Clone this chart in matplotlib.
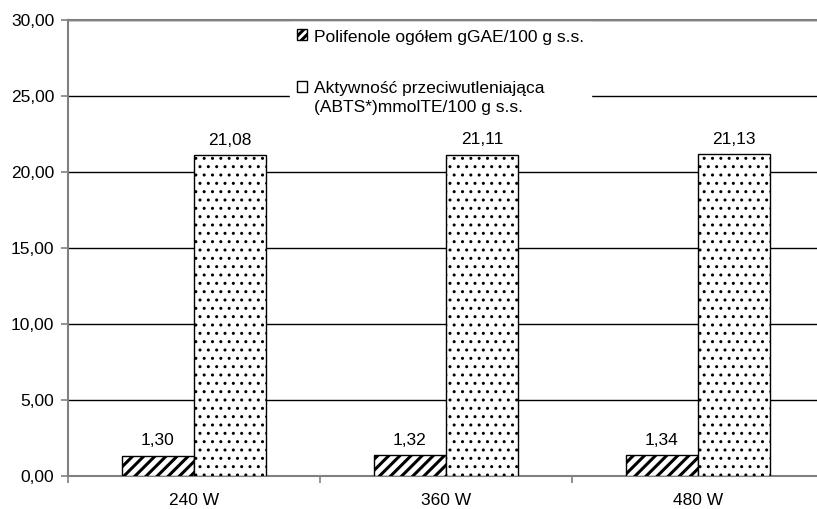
import matplotlib
matplotlib.use("Agg")
import matplotlib.pyplot as plt
from matplotlib.patches import Patch, Rectangle
from matplotlib.legend_handler import HandlerPatch
import numpy as np

categories = ["240 W", "360 W", "480 W"]
polifenole = [1.30, 1.32, 1.34]
aktywnosc = [21.08, 21.11, 21.13]
series_labels = ["Polifenole ogółem gGAE/100 g s.s.",
                 "Aktywność przeciwutleniająca\n(ABTS*)mmolTE/100 g s.s."]
yticks = [0, 5, 10, 15, 20, 25, 30]

plt.rcParams["font.family"] = ["Liberation Sans", "DejaVu Sans"]
plt.rcParams["font.size"] = 12.5
plt.rcParams["hatch.linewidth"] = 2.2

W, H = 817, 510
fig = plt.figure(figsize=(W / 100, H / 100), dpi=100)
# plot area runs slightly past the right edge of the figure
left, right, top, bottom = 68, 824, 20.5, 476.5
ax = fig.add_axes([left / W, 1 - bottom / H, (right - left) / W, (bottom - top) / H])

x = np.arange(len(categories))
bw = 72 / 252
b1 = ax.bar(x - bw / 2, polifenole, bw, color="white", edgecolor="black",
            hatch="///", linewidth=1, zorder=3)
b2 = ax.bar(x + bw / 2, aktywnosc, bw, color="white", edgecolor="black",
            hatch="..", linewidth=1, zorder=3)
for b in b2:
    if hasattr(b, "set_hatch_linewidth"):
        b.set_hatch_linewidth(1.0)

def fmt(v):
    return f"{v:.2f}".replace(".", ",")

for xs, vals in ((x - bw / 2, polifenole), (x + bw / 2, aktywnosc)):
    for xi, v in zip(xs, vals):
        ax.annotate(fmt(v), (xi, v), xytext=(0, 6), textcoords="offset points",
                    ha="center", va="bottom")

ax.set_xlim(-0.5, len(categories) - 0.5)
ax.set_ylim(0, 30)
ax.set_yticks(yticks)
ax.set_yticklabels([fmt(t) for t in yticks])
ax.yaxis.grid(True, color="black", linewidth=1)
ax.set_axisbelow(True)

ax.set_xticks(x)
ax.set_xticklabels(categories)
ax.set_xticks(np.arange(len(categories) + 1) - 0.5, minor=True)
ax.tick_params(axis="x", which="major", length=0, pad=12)
ax.tick_params(axis="x", which="minor", length=5, color="#808080", width=1.2)
ax.tick_params(axis="y", length=5, color="#808080", width=1.2, pad=5)

ax.spines["right"].set_visible(False)
for s in ("left", "bottom", "top"):
    ax.spines[s].set_color("#808080")
    ax.spines[s].set_linewidth(1.5)


def top_aligned(legend, orig_handle, xdescent, ydescent, width, height, fontsize):
    # put the key next to the first line of a two-line label
    return Rectangle((-xdescent, -ydescent + 0.62 * fontsize), width, height)


h1 = Patch(facecolor="white", edgecolor="black", hatch="////")
h2 = Patch(facecolor="white", edgecolor="black")
leg = fig.legend([h1, h2], series_labels, loc="upper left",
                 bbox_to_anchor=(281 / W, 1 - 14 / H), frameon=True,
                 handlelength=0.6, handleheight=0.6, handletextpad=0.4,
                 labelspacing=2.1, borderpad=0.4, fancybox=False,
                 handler_map={h2: HandlerPatch(patch_func=top_aligned)})
for t in leg.get_texts():
    t.set_linespacing(1.35)
leg.get_frame().set_edgecolor("white")
leg.get_frame().set_facecolor("white")
leg.get_frame().set_alpha(1)

fig.savefig("out.png", dpi=100)
